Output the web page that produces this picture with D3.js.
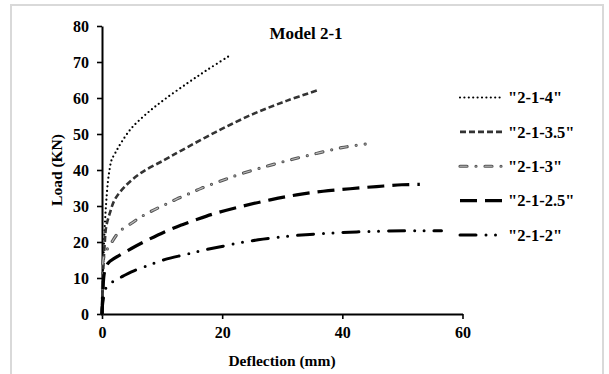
<!DOCTYPE html>
<html>
<head>
<meta charset="utf-8">
<script src="https://cdn.jsdelivr.net/npm/d3@7"></script>
<style>
  html, body { margin: 0; padding: 0; background: #fff; }
  svg text { font-family: "Liberation Serif", "Times New Roman", serif; font-weight: bold; fill: #000; }
</style>
</head>
<body>
<div id="chart"></div>
<script>
// Load–deflection curves, Model 2-1
const xTicks = [0, 20, 40, 60];
const yTicks = [0, 10, 20, 30, 40, 50, 60, 70, 80];

const s214Defl = [0, 0.1, 0.25, 0.45, 0.7, 1.0, 1.3, 1.6, 2.3, 3.2, 4.9, 7.6, 10.4, 14.3, 17.6, 21.5];
const s214Load = [0, 8, 16, 24, 31, 37, 40.5, 42.8, 45, 47.6, 51.6, 55.9, 59.6, 64.2, 67.9, 72];

const s2135Defl = [0, 0.15, 0.45, 0.7, 1.3, 2.1, 3.8, 6.5, 10.4, 13.2, 19, 25.2, 30.7, 36];
const s2135Load = [0, 10, 19.6, 24.3, 28, 31.7, 35.4, 39.2, 42.8, 45.4, 50.6, 55.6, 59.2, 62.2];

const s213Defl = [0, 0.1, 0.3, 1.5, 2.9, 4.9, 6.5, 8.5, 10.4, 12.4, 14.6, 16.5, 18.5, 20.7, 22.7, 27.1, 31.3, 35.7, 39.9, 43.8];
const s213Load = [0, 8, 16, 19.6, 22.9, 25.2, 27, 28.8, 30.3, 31.9, 33.5, 34.9, 36.2, 37.5, 38.7, 40.9, 42.8, 44.6, 46.2, 47.2];

const s2125Defl = [0, 0.15, 0.4, 1.0, 2.1, 4.9, 7.65, 10.4, 13.2, 16, 18.75, 23, 28, 32.4, 36.8, 41.3, 45.7, 49.9, 52.9];
const s2125Load = [0, 6, 11.5, 14.1, 15.5, 18.2, 20.6, 22.8, 24.7, 26.4, 27.9, 29.8, 31.7, 33.1, 34.1, 34.8, 35.4, 35.9, 36];

const s212Defl = [0, 0.2, 0.7, 2.1, 3.5, 4.9, 7.65, 10.4, 13.8, 16.5, 19.5, 23, 26.8, 30.7, 34.6, 38.5, 42.4, 46.8, 50.7, 54, 56.5];
const s212Load = [0, 4, 7.3, 9.3, 10.5, 11.7, 13.5, 15.1, 16.5, 17.6, 18.6, 19.8, 20.8, 21.6, 22.1, 22.5, 22.8, 23.0, 23.1, 23.1, 23.1];

const seriesNames = ['"2-1-4"', '"2-1-3.5"', '"2-1-3"', '"2-1-2.5"', '"2-1-2"'];
const seriesDefl = [s214Defl, s2135Defl, s213Defl, s2125Defl, s212Defl];
const seriesLoad = [s214Load, s2135Load, s213Load, s2125Load, s212Load];

// line styles per series
const styles = [
  { stroke: "#000", width: 2.2, dash: "0 4.4", cap: "round" },
  { stroke: "#333", width: 2.6, dash: "6 3", cap: "butt" },
  { stroke: "#555", width: 3.2, dash: "7 9 0 9", cap: "round", inner: "#bbb" },
  { stroke: "#000", width: 3.2, dash: "17 8", cap: "butt" },
  { stroke: "#000", width: 3.0, dash: "16 10 0 9.5 0 10", cap: "round" }
];

const W = 609, H = 374;
const svg = d3.select("#chart").append("svg").attr("width", W).attr("height", H);

// outer frame
svg.append("rect").attr("x", 11).attr("y", 5).attr("width", 592).attr("height", 380)
  .attr("fill", "none").attr("stroke", "#d9d9d9").attr("stroke-width", 2);

const x = d3.scaleLinear().domain([0, 60]).range([102, 462.5]);
const y = d3.scaleLinear().domain([0, 80]).range([314, 26]);

const xAxis = d3.axisBottom(x).tickValues(xTicks).tickSize(5).tickPadding(8).tickSizeOuter(0);
const yAxis = d3.axisLeft(y).tickValues(yTicks).tickSize(5).tickPadding(8).tickSizeOuter(0);

const gx = svg.append("g").attr("transform", "translate(0,314)").call(xAxis);
const gy = svg.append("g").attr("transform", "translate(102,0)").call(yAxis);
[gx, gy].forEach(g => {
  g.selectAll("path.domain").attr("stroke", "#000").attr("stroke-width", 2);
  g.selectAll(".tick line").attr("stroke", "#000").attr("stroke-width", 1.6);
  g.selectAll(".tick text").style("font-size", "16px")
    .style("font-family", '"Liberation Serif", serif').style("font-weight", "bold");
});

// series
const line = d3.line().x(d => x(d[0])).y(d => y(d[1])).curve(d3.curveCatmullRom.alpha(0.5));
seriesDefl.forEach((defl, i) => {
  const pts = defl.map((d, k) => [d, seriesLoad[i][k]]);
  const st = styles[i];
  svg.append("path").datum(pts).attr("d", line)
    .attr("fill", "none").attr("stroke", st.stroke).attr("stroke-width", st.width)
    .attr("stroke-dasharray", st.dash).attr("stroke-linecap", st.cap);
  if (st.inner) {
    svg.append("path").datum(pts).attr("d", line)
      .attr("fill", "none").attr("stroke", st.inner).attr("stroke-width", 1.2)
      .attr("stroke-dasharray", st.dash).attr("stroke-linecap", st.cap);
  }
});

// legend
const legY = d3.scalePoint().domain(seriesNames).range([97.5, 235]);
seriesNames.forEach((name, i) => {
  const st = styles[i];
  const yy = legY(name);
  svg.append("line").attr("x1", 460).attr("x2", 504).attr("y1", yy).attr("y2", yy)
    .attr("stroke", st.stroke).attr("stroke-width", st.width)
    .attr("stroke-dasharray", st.dash).attr("stroke-linecap", st.cap);
  if (st.inner) {
    svg.append("line").attr("x1", 460).attr("x2", 504).attr("y1", yy).attr("y2", yy)
      .attr("stroke", st.inner).attr("stroke-width", 1.2)
      .attr("stroke-dasharray", st.dash).attr("stroke-linecap", st.cap);
  }
  svg.append("text").attr("x", 508).attr("y", yy).attr("dy", "0.35em")
    .style("font-size", "16.5px").text(name);
});

// title and axis titles
svg.append("text").attr("x", 306).attr("y", 39).attr("text-anchor", "middle")
  .style("font-size", "17px").text("Model 2-1");
svg.append("text").attr("x", 282).attr("y", 366).attr("text-anchor", "middle")
  .style("font-size", "15.5px").text("Deflection (mm)");
svg.append("text").attr("transform", "translate(62,170) rotate(-90)").attr("text-anchor", "middle")
  .style("font-size", "15.5px").text("Load (KN)");
</script>
</body>
</html>
